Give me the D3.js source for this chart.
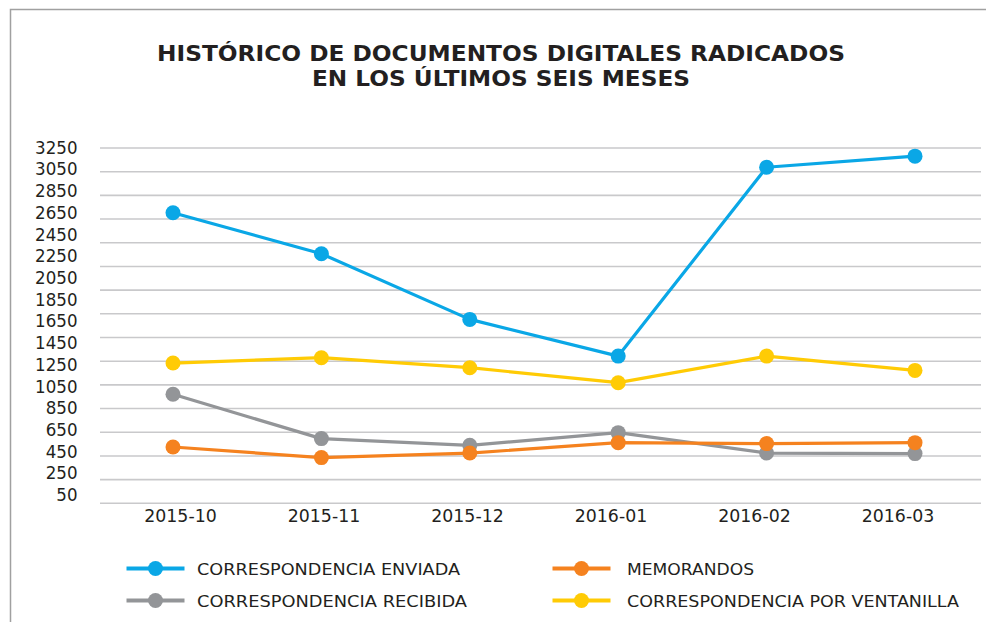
<!DOCTYPE html>
<html><head><meta charset="utf-8">
<script src="https://cdn.jsdelivr.net/npm/d3@7"></script>
<style>body{margin:0;background:#fff}text{fill:#231f20}</style>
</head><body>
<svg id="chart" width="986" height="622"></svg>
<script>
const months = ["2015-10","2015-11","2015-12","2016-01","2016-02","2016-03"];
const yTickLabels = [50,250,450,650,850,1050,1250,1450,1650,1850,2050,2250,2450,2650,2850,3050,3250];
const seriesNames = ["CORRESPONDENCIA ENVIADA","MEMORANDOS","CORRESPONDENCIA RECIBIDA","CORRESPONDENCIA POR VENTANILLA"];
const seriesColors = ["#0aa7e6","#f5821f","#939598","#ffcb05"];
const enviada   = [2652,2274,1670,1332,3071,3173];
const memorandos = [495,397,439,535,526,535];
const recibida  = [980,572,510,627,439,434];
const ventanilla = [1268,1317,1225,1087,1332,1200];
const gridCount = 16;

const svg = d3.select("#chart");
const font = "'DejaVu Sans', Verdana, sans-serif";

// frame
svg.append("path").attr("d","M10.5,640 V9.5 H1000").attr("fill","none").attr("stroke","#a0a0a0").attr("stroke-width",1.5);

// title
const title = svg.append("text").attr("text-anchor","middle")
  .style("font-family",font).style("font-weight","bold").style("font-size","21px");
title.append("tspan").attr("x",501).attr("y",61).text("HISTÓRICO DE DOCUMENTOS DIGITALES RADICADOS").attr("textLength",688).attr("lengthAdjust","spacingAndGlyphs");
title.append("tspan").attr("x",501).attr("y",85.5).text("EN LOS ÚLTIMOS SEIS MESES").attr("textLength",378).attr("lengthAdjust","spacingAndGlyphs");

// scales
const y = d3.scaleLinear().domain([50,3250]).range([495.3,147.8]);
const gridY = d3.scaleLinear().domain([0,gridCount-1]).range([503.3,148]);
const xPts = d3.scalePoint().domain(months).range([173,915]);
const xLab = d3.scalePoint().domain(months).range([180,897.5]);

// gridlines
svg.append("g").selectAll("line").data(d3.range(gridCount)).join("line")
  .attr("x1",100).attr("x2",981).attr("y1",d=>gridY(d)).attr("y2",d=>gridY(d))
  .attr("stroke","#c9c9cb").attr("stroke-width",1.6);

// y axis labels
const yAxis = svg.append("g").attr("transform","translate(77.5,0)")
  .call(d3.axisLeft(y).tickValues(yTickLabels).tickFormat(d3.format("d")).tickSize(0).tickPadding(0));
yAxis.select(".domain").remove();
yAxis.selectAll("text").style("font-family",font).style("font-size","16.8px").attr("fill","#231f20")
  .attr("textLength",function(){ return this.textContent.length*10.6; }).attr("lengthAdjust","spacingAndGlyphs");

// x axis labels
const xAxis = svg.append("g").attr("transform","translate(0,510)")
  .call(d3.axisBottom(xLab).tickSize(0).tickPadding(0));
xAxis.select(".domain").remove();
xAxis.selectAll("text").style("font-family",font).style("font-size","17px").attr("fill","#231f20")
  .attr("textLength",72.5).attr("lengthAdjust","spacingAndGlyphs");

// series
const series = [
  {name:seriesNames[0], color:seriesColors[0], values:enviada},
  {name:seriesNames[1], color:seriesColors[1], values:memorandos},
  {name:seriesNames[2], color:seriesColors[2], values:recibida},
  {name:seriesNames[3], color:seriesColors[3], values:ventanilla}
];
const drawOrder = [2,1,0,3];
const line = d3.line().x((d,i)=>xPts(months[i])).y(d=>y(d));
drawOrder.forEach(k=>{
  const s = series[k];
  const g = svg.append("g");
  g.append("path").attr("d",line(s.values)).attr("fill","none").attr("stroke",s.color).attr("stroke-width",3.2).attr("stroke-linejoin","round");
  g.selectAll("circle").data(s.values).join("circle")
    .attr("cx",(d,i)=>xPts(months[i])).attr("cy",d=>y(d)).attr("r",7.5).attr("fill",s.color);
});

// legend
const legendPos = [
  {lx:126.5, tx:197, y:568.5, w:263},
  {lx:552.5, tx:627, y:568.5, w:127},
  {lx:126.5, tx:197, y:600.5, w:270},
  {lx:552.5, tx:627, y:600.5, w:332}
];
series.forEach((s,k)=>{
  const p = legendPos[k];
  const g = svg.append("g");
  g.append("line").attr("x1",p.lx).attr("x2",p.lx+58).attr("y1",p.y).attr("y2",p.y).attr("stroke",s.color).attr("stroke-width",4);
  g.append("circle").attr("cx",p.lx+29).attr("cy",p.y).attr("r",7.5).attr("fill",s.color);
  g.append("text").attr("x",p.tx).attr("y",p.y+6).text(s.name)
    .style("font-family",font).style("font-size","16px")
    .attr("textLength",p.w).attr("lengthAdjust","spacingAndGlyphs");
});
</script>
</body></html>
